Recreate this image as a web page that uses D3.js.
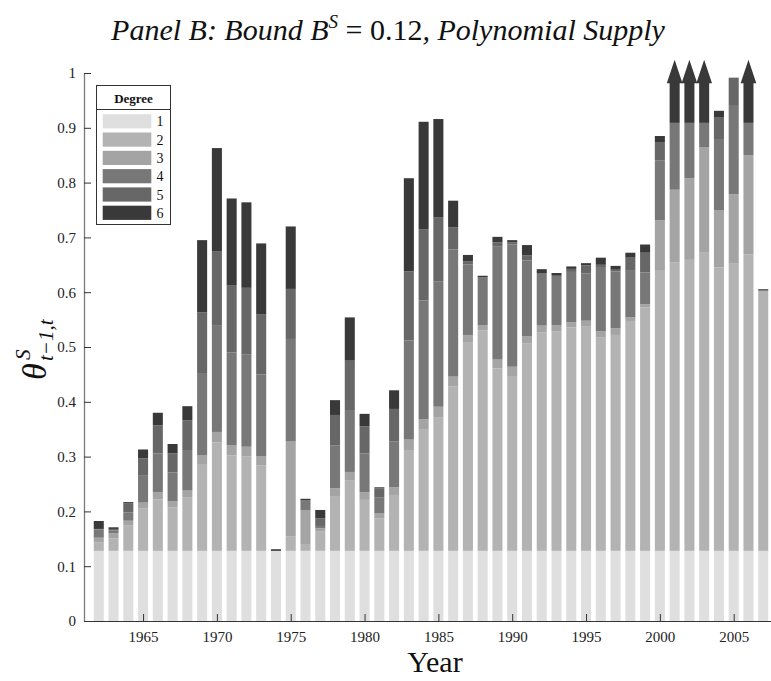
<!DOCTYPE html>
<html>
<head>
<meta charset="utf-8">
<script src="https://cdn.jsdelivr.net/npm/d3@7"></script>
<style>
  html, body { margin: 0; padding: 0; background: #fff; }
  svg { display: block; }
  text { font-family: "Liberation Serif", "Times New Roman", serif; }
</style>
</head>
<body>
<div id="chart"></div>
<script>
// ---------------- DATA ----------------
const years = d3.range(1962, 2008);
const degrees = ["1", "2", "3", "4", "5", "6"];
const yTicks = [0, 0.1, 0.2, 0.3, 0.4, 0.5, 0.6, 0.7, 0.8, 0.9, 1];
const xTicks = [1965, 1970, 1975, 1980, 1985, 1990, 1995, 2000, 2005];

// bound value for each polynomial degree (null = off the scale, drawn with an arrow)
const deg1 = years.map(() => 0.128);
const deg2 = [0.143,0.151,0.174,0.205,0.222,0.207,0.225,0.285,0.326,0.302,0.300,0.284,0.128,0.154,0.1405,0.163,
  0.228,0.256,0.221,0.187,0.230,0.312,0.349,0.371,0.428,0.509,0.530,0.461,0.447,0.507,0.527,0.529,
  0.5355,0.537,0.517,0.522,0.546,0.572,0.639,0.654,0.659,0.672,0.645,0.652,0.669,0.603];
const deg3 = [0.152,0.160,0.183,0.216,0.235,0.219,0.238,0.302,0.345,0.321,0.318,0.301,0.128,0.3275,0.2026,0.169,
  0.242,0.272,0.235,0.197,0.244,0.331,0.368,0.391,0.446,0.522,0.540,0.477,0.464,0.520,0.539,0.540,
  0.545,0.548,0.529,0.534,0.554,0.578,0.731,0.787,0.808,0.864,0.750,0.779,0.850,0.603];
const deg4 = [0.167,0.165,0.198,0.265,0.306,0.271,0.312,0.451,0.540,0.490,0.486,0.450,0.128,0.5147,0.220,0.1734,
  0.320,0.385,0.306,0.225,0.328,0.512,0.585,0.620,0.678,0.651,0.627,0.683,0.687,0.658,0.635,0.630,
  0.637,0.634,0.646,0.638,0.639,0.636,0.840,0.909,0.909,0.909,0.878,0.940,0.909,0.603];
const deg5 = [0.168,0.168,0.215,0.297,0.357,0.306,0.366,0.563,0.675,0.613,0.608,0.560,0.128,0.606,0.220,0.1873,
  0.376,0.475,0.355,0.242,0.387,0.638,0.715,0.737,0.718,0.656,0.627,0.691,0.691,0.667,0.635,0.630,
  0.6425,0.649,0.650,0.641,0.663,0.672,0.874,0.909,0.909,0.909,0.9185,0.9915,0.909,0.603];
const deg6 = [0.1825,0.171,0.217,0.313,0.380,0.323,0.392,0.695,0.863,0.771,0.764,0.689,0.131,0.720,0.223,0.2026,
  0.403,0.554,0.378,0.244,0.421,0.808,0.911,0.916,0.767,0.668,0.630,0.701,0.695,0.686,0.642,0.635,
  0.647,0.653,0.663,0.648,0.672,0.687,0.885,null,null,null,0.931,0.9915,null,0.6054];

const colors = ["#dfdfdf", "#b3b3b3", "#a4a4a4", "#787878", "#676767", "#393939"];
const series = [deg1, deg2, deg3, deg4, deg5, deg6];

// ---------------- LAYOUT ----------------
const W = 771, H = 681;
const x = d3.scaleLinear().domain([1961, 2008]).range([84, 778]);
const y = d3.scaleLinear().domain([0, 1]).range([621, 73]);
const arrowBase = 0.982, arrowTip = 1.024;
const barW = (x(1) - x(0)) * 0.68;

const svg = d3.select("#chart").append("svg")
  .attr("width", W).attr("height", H)
  .attr("viewBox", `0 0 ${W} ${H}`);

// bars
const gBars = svg.append("g");
years.forEach((yr, i) => {
  let prev = 0;
  series.forEach((s, k) => {
    let v = s[i];
    const off = (v === null);
    if (off) v = arrowBase;
    if (v > prev) {
      gBars.append("rect")
        .attr("x", x(yr) - barW / 2)
        .attr("width", barW)
        .attr("y", y(v))
        .attr("height", y(prev) - y(v))
        .attr("fill", colors[k]);
    }
    if (off) {
      const hw = barW * 0.78;
      gBars.append("path")
        .attr("d", `M${x(yr) - hw},${y(arrowBase) + 0.5}L${x(yr) + hw},${y(arrowBase) + 0.5}L${x(yr)},${y(arrowTip)}Z`)
        .attr("fill", colors[k]);
    }
    prev = Math.max(prev, v);
  });
});

// axes
const yAxis = d3.axisLeft(y).tickValues(yTicks)
  .tickFormat(d => d === 0 ? "0" : d === 1 ? "1" : d3.format(".1f")(d))
  .tickSizeInner(-7).tickSizeOuter(0).tickPadding(8);
const gy = svg.append("g").attr("transform", `translate(${x(1961)},0)`).call(yAxis);
gy.select(".domain").attr("stroke", "#7a7a7a").attr("stroke-width", 1.3);
gy.selectAll(".tick line").attr("stroke", "#333");
gy.selectAll(".tick text").attr("font-size", 15).attr("fill", "#222")
  .attr("font-family", "Liberation Serif");

const xAxis = d3.axisBottom(x).tickValues(xTicks).tickFormat(d3.format("d"))
  .tickSizeInner(-7).tickSizeOuter(0).tickPadding(10);
const gx = svg.append("g").attr("transform", `translate(0,${y(0)})`).call(xAxis);
gx.select(".domain").attr("stroke", "#333").attr("stroke-width", 1.2);
gx.selectAll(".tick line").attr("stroke", "#333");
gx.selectAll(".tick text").attr("font-size", 15).attr("fill", "#222")
  .attr("font-family", "Liberation Serif");

// title
const title = svg.append("text").attr("x", 388).attr("y", 40)
  .attr("text-anchor", "middle").attr("font-size", 30).attr("fill", "#111");
title.append("tspan").attr("font-style", "italic").text("Panel B: Bound B");
title.append("tspan").attr("font-style", "italic").attr("font-size", 19).attr("dy", -12).text("S");
title.append("tspan").attr("dy", 12).text(" = 0.12");
title.append("tspan").attr("font-style", "italic").text(", Polynomial Supply");

// x label
svg.append("text").attr("x", 435).attr("y", 672).attr("text-anchor", "middle")
  .attr("font-size", 30).attr("fill", "#111").text("Year");

// y label  θ^S_{t-1,t}
const yl = svg.append("g").attr("transform", "translate(46,380) rotate(-90)");
yl.append("text").attr("x", 0).attr("y", 0).attr("font-size", 34)
  .attr("font-style", "italic").attr("fill", "#111").text("θ");
yl.append("text").attr("x", 20).attr("y", -16).attr("font-size", 21)
  .attr("font-style", "italic").attr("fill", "#111").text("S");
yl.append("text").attr("x", 19).attr("y", 7).attr("font-size", 21)
  .attr("font-style", "italic").attr("fill", "#111").text("t−1,t");

// legend
const lg = svg.append("g");
lg.append("rect").attr("x", 96.5).attr("y", 85.5).attr("width", 74).attr("height", 139)
  .attr("fill", "#fff").attr("stroke", "#333").attr("stroke-width", 1);
lg.append("line").attr("x1", 96.5).attr("x2", 170.5).attr("y1", 109.5).attr("y2", 109.5)
  .attr("stroke", "#333").attr("stroke-width", 1);
lg.append("text").attr("x", 133.5).attr("y", 103).attr("text-anchor", "middle")
  .attr("font-size", 13).attr("font-weight", "bold").attr("fill", "#111").text("Degree");
degrees.forEach((d, i) => {
  const cy = 121.3 + i * 18.3;
  lg.append("rect").attr("x", 102.7).attr("y", cy - 7.1).attr("width", 48.6).attr("height", 14.2)
    .attr("fill", colors[i]);
  lg.append("text").attr("x", 156.5).attr("y", cy + 5).attr("font-size", 14)
    .attr("fill", "#111").text(d);
});
</script>
</body>
</html>
